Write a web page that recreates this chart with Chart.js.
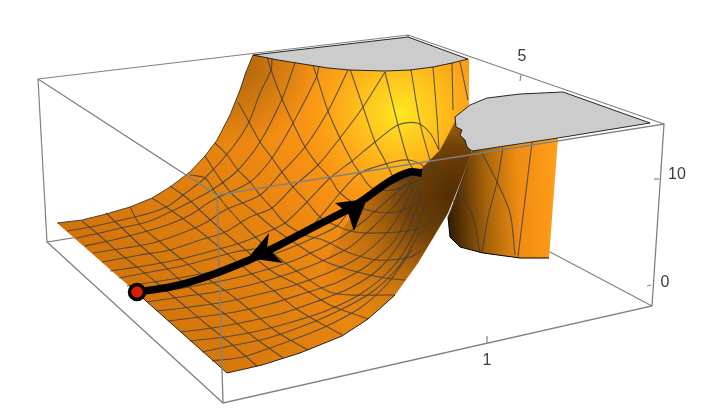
<!DOCTYPE html>
<html>
<head>
<meta charset="utf-8">
<style>
html, body { margin: 0; padding: 0; background: #fff; }
canvas { display: block; }
</style>
<script src="https://cdn.jsdelivr.net/npm/chart.js@4"></script>
</head>
<body>
<canvas id="surface" width="716" height="416"></canvas>
<script>
// tick labels
const tickLabels = ['5', '10', '0', '1'];
const tickLabelAt = [[522, 57], [677, 175], [665, 283], [487, 361]];
const tickMarks = [
    [[521, 75], [520, 81]],
    [[654, 179], [659, 179]],
    [[647, 286], [651, 285]],
    [[487, 336], [487, 343]],
];

// bounding box, behind and in front of the surface
const boxBack = [
    [[38, 79], [408, 35], [664, 124]],
    [[38, 79], [47, 242], [418, 182]],
    [[408, 35], [418, 182], [652, 306]],
];
const boxFront = [
    [[38, 79], [217, 195], [664, 124], [652, 306], [223, 403], [47, 242]],
    [[217, 195], [223, 403]],
];

// outlines of the sheets
const mainOutline = [[57, 223], [82, 220], [106, 214], [130, 207], [152, 198], [170, 187], [190, 172], [205, 156], [217, 140],
    [230, 115], [240, 90], [246, 72], [253, 55], [278, 60], [303, 64], [328, 68], [350, 70], [385, 71], [410, 70], [433, 67], [469, 59], [469, 105], [457, 118],
    [472, 153], [448, 213], [418, 263], [395, 295], [368, 319], [342, 336], [300, 353], [262, 365], [227, 373], [137, 293], [57, 223]];
const valleySheet = [[457, 118], [472, 153], [448, 213], [418, 263], [395, 295], [368, 319], [342, 336], [318, 300], [330, 255],
    [345, 225], [375, 192], [400, 176], [420, 170], [440, 150], [457, 118]];
const rightWall = [[472, 151], [558, 138], [549, 258], [520, 258], [483, 253], [460, 247], [450, 237], [448, 217], [472, 151]];
const topLeftCap = [[253, 55], [408, 37], [468, 59], [452, 63], [433, 67], [410, 70], [385, 71], [350, 70], [328, 68], [303, 64], [278, 60], [253, 55]];
const topRightCap = [[455, 117], [470, 105], [487, 98], [520, 94], [563, 92], [650, 123], [558, 138], [472, 151], [467, 147],
    [465, 140], [460, 135], [462, 130], [456, 127], [455, 117]];

// mesh lines running down the slope
const meshA = [
    [[82, 221], [100, 236], [118, 252], [137, 267], [157, 283], [180, 302], [205, 323], [230, 343], [257, 366]],
    [[106, 213], [122, 228], [140, 245], [160, 262], [180, 280], [203, 298], [230, 318], [255, 338], [283, 358]],
    [[130, 207], [140, 225], [160, 242], [180, 258], [202, 275], [227, 292], [250, 310], [277, 332], [308, 350]],
    [[152, 198], [163, 205], [182, 218], [202, 233], [225, 252], [247, 270], [273, 290], [298, 310], [342, 335]],
    [[170, 186], [187, 198], [205, 215], [225, 233], [248, 252], [273, 272], [298, 285], [330, 305], [368, 319]],
    [[190, 175], [205, 178], [215, 192], [227, 207], [248, 230], [273, 253], [298, 272], [333, 293], [395, 295]],
    [[205, 156], [218, 176], [233, 195], [252, 210], [272, 227], [295, 243], [322, 260], [350, 270], [385, 278], [405, 280]],
    [[215, 143], [227, 155], [238, 170], [250, 182], [260, 195], [272, 208], [285, 223], [305, 235], [323, 240], [350, 253], [377, 260], [410, 257], [422, 250]],
    [[238, 102], [249, 122], [260, 142], [272, 158], [282, 172], [293, 187], [307, 202], [320, 217], [337, 226], [355, 232], [377, 233], [413, 230], [443, 217]],
    [[267, 57], [271, 70], [282, 99], [293, 123], [305, 147], [318, 165], [330, 178], [340, 193], [367, 210], [397, 212], [420, 202]],
    [[313, 65], [317, 77], [328, 111], [340, 138], [353, 163], [360, 173], [372, 188], [393, 190], [420, 180]],
    [[350, 69], [363, 107], [375, 142], [383, 157], [393, 177]],
    [[385, 72], [398, 125], [408, 160], [415, 172]],
    [[411, 70], [420, 123], [430, 160], [434, 170]],
    [[433, 67], [437, 117], [439, 150]],
    [[452, 63], [453, 110]],
    [[460, 62], [468, 100]],
];

// mesh lines running across the slope
const meshB = [
    [[67, 231], [90, 227], [113, 222], [150, 213], [170, 205], [183, 195], [205, 178], [233, 147], [249, 122], [260, 93], [271, 70], [272, 58]],
    [[76, 238], [100, 233], [125, 227], [147, 222], [168, 213], [190, 202], [215, 188], [238, 170], [260, 142], [282, 99], [295, 63]],
    [[85, 246], [113, 240], [140, 233], [167, 225], [190, 215], [213, 200], [250, 182], [272, 158], [293, 123], [316, 78], [319, 66]],
    [[93, 253], [125, 248], [153, 243], [185, 232], [207, 222], [225, 210], [260, 195], [282, 172], [305, 147], [328, 111], [348, 70]],
    [[102, 262], [140, 255], [170, 250], [200, 240], [225, 232], [250, 217], [272, 208], [293, 187], [318, 165], [340, 138], [363, 107], [385, 72]],
    [[110, 271], [150, 265], [185, 258], [215, 250], [240, 243], [265, 233], [285, 223], [307, 202], [330, 178], [352, 161], [375, 142], [398, 125], [417, 123], [430, 133], [439, 150]],
    [[119, 278], [150, 272], [178, 267], [205, 260], [235, 252], [270, 246], [305, 232], [320, 217], [340, 193], [360, 173], [393, 162], [408, 160], [422, 165], [428, 173]],
    [[127, 286], [160, 281], [190, 276], [220, 270], [250, 262], [285, 250], [320, 235], [337, 226], [352, 208], [375, 190], [403, 180], [420, 172]],
    [[137, 293], [170, 290], [200, 285], [235, 278], [265, 270], [300, 258], [340, 238], [365, 220], [390, 198], [405, 185], [415, 176]],
    [[147, 302], [180, 297], [215, 292], [250, 285], [285, 275], [320, 262], [350, 247], [372, 228], [395, 205], [412, 182]],
    [[157, 311], [190, 307], [225, 302], [260, 294], [295, 285], [330, 272], [358, 258], [385, 235], [405, 205], [414, 184]],
    [[168, 321], [200, 317], [235, 312], [270, 304], [305, 293], [338, 282], [368, 265], [395, 240], [412, 205], [418, 186]],
    [[180, 332], [212, 328], [245, 322], [280, 314], [315, 302], [350, 288], [380, 268], [405, 235], [418, 205], [422, 188]],
    [[190, 341], [225, 337], [258, 331], [292, 322], [328, 310], [362, 293], [392, 268], [412, 238], [425, 205]],
    [[202, 352], [230, 346], [265, 339], [303, 326], [338, 311], [372, 292], [400, 265], [420, 232]],
    [[212, 361], [243, 357], [270, 348], [300, 337], [327, 326], [360, 308], [388, 283], [412, 250]],
];

const meshWall = [
    [[532, 142], [518, 257]],
    [[503, 148], [497, 182], [488, 217], [482, 253]],
    [[482, 153], [497, 182], [510, 213], [515, 255]],
    [[460, 190], [473, 217], [480, 253]],
    [[470, 157], [460, 190], [448, 217]],
];

// trajectory and its marks
const trajectory = [[137, 292], [170, 287], [200, 279], [247, 261], [270, 250], [310, 229], [347, 210], [363, 200], [390, 181], [410, 172], [422, 173]];
const arrowHeads = [
    [[248, 258], [269, 233], [267, 248], [283, 263], [248, 258]],
    [[367, 199], [335, 203], [348, 213], [354, 231], [367, 199]],
];
const startPoint = [[137, 292]];

const canvas = document.getElementById('surface');
const ctx = canvas.getContext('2d');

function linear(x0, y0, x1, y1, stops) {
    const g = ctx.createLinearGradient(x0, y0, x1, y1);
    stops.forEach(s => g.addColorStop(s[0], s[1]));
    return g;
}
function radial(x, y, r, stops) {
    const g = ctx.createRadialGradient(x, y, 0, x, y, r);
    stops.forEach(s => g.addColorStop(s[0], s[1]));
    return g;
}

const xy = pts => pts.map(p => ({ x: p[0], y: p[1] }));
const line = (pts, color, width, tension) => ({
    data: xy(pts), showLine: true, fill: false, borderColor: color, borderWidth: width,
    pointRadius: 0, tension: tension || 0,
});
const sheet = (pts, paint) => ({
    data: xy(pts), showLine: true, fill: 'shape', backgroundColor: paint, borderWidth: 0,
    borderColor: 'rgba(0,0,0,0)', pointRadius: 0, tension: 0,
});

const meshColor = 'rgba(60,60,60,0.8)';
const boxColor = '#808080';

const layers = [];
boxBack.forEach(b => layers.push(line(b, boxColor, 1.2)));
tickMarks.forEach(t => layers.push(line(t, boxColor, 1.2)));

layers.push(sheet(rightWall, linear(450, 200, 555, 195, [[0, '#3a2003'], [0.35, '#a8640a'], [0.65, '#ef8c12'], [1, '#ff9c18']])));
meshWall.forEach(m => layers.push(line(m, meshColor, 1.1, 0.3)));
layers.push(line(rightWall.slice(2, 8), '#000', 1));

layers.push(sheet(mainOutline, linear(110, 300, 320, 150, [[0, '#d0730b'], [0.5, '#e07f0e'], [1, '#f68f14']])));
layers.push(sheet(mainOutline, radial(400, 112, 150, [[0, 'rgba(255,232,34,1)'], [0.3, 'rgba(255,190,28,0.95)'], [0.65, 'rgba(250,150,20,0.6)'], [1, 'rgba(246,143,20,0)']])));
layers.push(sheet(mainOutline, radial(235, 60, 85, [[0, 'rgba(165,95,10,0.95)'], [1, 'rgba(165,95,10,0)']])));
layers.push(sheet(valleySheet, radial(455, 195, 165, [[0, 'rgba(80,45,4,1)'], [0.3, 'rgba(105,60,6,0.95)'], [0.6, 'rgba(150,85,8,0.55)'], [1, 'rgba(200,110,10,0)']])));

meshA.forEach(m => layers.push(line(m, meshColor, 1.1, 0.3)));
meshB.forEach(m => layers.push(line(m, meshColor, 1.1, 0.3)));
layers.push(line(mainOutline.slice(26, 33), '#222', 1));
layers.push(line(mainOutline.slice(0, 13), '#222', 0.8));

layers.push(sheet(topLeftCap, '#cccccc'));
layers.push(line(topLeftCap, '#111', 0.9));
layers.push(sheet(topRightCap, '#cccccc'));
layers.push(line(topRightCap, '#111', 0.9));

boxFront.forEach(b => layers.push(line(b, boxColor, 1.3)));

layers.push(line(trajectory, '#000', 7.5, 0.3));
arrowHeads.forEach(a => layers.push(sheet(a, '#000')));
layers.push({
    data: xy(startPoint), showLine: false, pointRadius: 7.5, pointBorderWidth: 3.5,
    pointBackgroundColor: '#d81e05', pointBorderColor: '#000',
});

// later entries in layers paint on top
layers.forEach((d, i) => { d.order = layers.length - i; d.clip = false; });

const tickText = {
    id: 'tickText',
    afterDatasetsDraw(chart) {
        const c = chart.ctx;
        c.save();
        c.font = '16px "Liberation Sans"';
        c.fillStyle = '#3c3c3c';
        c.textAlign = 'center';
        c.textBaseline = 'middle';
        tickLabels.forEach((t, i) => {
            c.fillText(t, chart.scales.x.getPixelForValue(tickLabelAt[i][0]), chart.scales.y.getPixelForValue(tickLabelAt[i][1]));
        });
        c.restore();
    }
};

new Chart(canvas, {
    type: 'scatter',
    data: { datasets: layers },
    options: {
        responsive: false,
        animation: false,
        layout: { padding: 0, autoPadding: false },
        plugins: { legend: { display: false }, tooltip: { enabled: false } },
        scales: {
            x: { type: 'linear', min: 0, max: 716, display: false },
            y: { type: 'linear', min: 0, max: 416, reverse: true, display: false },
        },
    },
    plugins: [tickText],
});
</script>
</body>
</html>
